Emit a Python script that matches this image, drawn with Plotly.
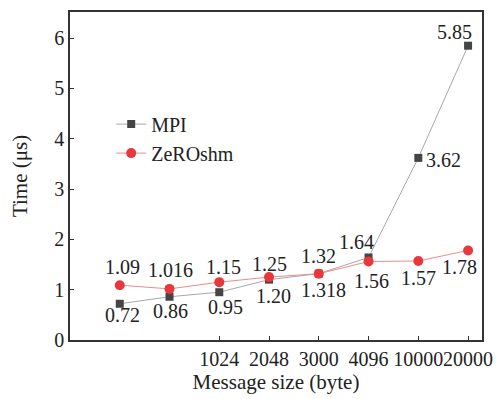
import plotly.graph_objects as go

positions = [1, 2, 3, 4, 5, 6, 7, 8]
tick_positions = [3, 4, 5, 6, 7, 8]
tick_labels = ["1024", "2048", "3000", "4096", "10000", "20000"]
mpi = [0.72, 0.86, 0.95, 1.20, 1.32, 1.64, 3.62, 5.85]
mpi_text = ["0.72", "0.86", "0.95", "1.20", "1.32", "1.64", "3.62", "5.85"]
zero = [1.09, 1.016, 1.15, 1.25, 1.318, 1.56, 1.57, 1.78]
zero_text = ["1.09", "1.016", "1.15", "1.25", "1.318", "1.56", "1.57", "1.78"]

# label offsets in pixels (dx, dy-up)
mpi_off = [(3, -11), (1, -14), (6, -15), (4, -16), (0, 18), (-12, 16), (25, -2), (-14, 14)]
zero_off = [(3, 18), (1, 19), (4, 15), (0, 13), (5, -16), (3, -19), (0, -17), (-9, -17)]

FONT = "Liberation Serif"
fig = go.Figure()
fig.add_trace(go.Scatter(
    x=positions, y=mpi, mode="lines+markers", name="MPI",
    line=dict(color="#a8a8a8", width=1),
    marker=dict(symbol="square", size=8, color="#454545"),
))
fig.add_trace(go.Scatter(
    x=positions, y=zero, mode="lines+markers", name="ZeROshm",
    line=dict(color="#eb8c8c", width=1),
    marker=dict(symbol="circle", size=10, color="#e8383d"),
))

for xs, ys, ts, offs in [(positions, mpi, mpi_text, mpi_off), (positions, zero, zero_text, zero_off)]:
    for x, y, t, (dx, dy) in zip(xs, ys, ts, offs):
        fig.add_annotation(x=x, y=y, text=t, showarrow=False,
                           xshift=dx, yshift=dy,
                           font=dict(family=FONT, size=20, color="#222222"))

fig.update_layout(
    width=503, height=399,
    margin=dict(l=70, r=16, t=10, b=55),
    plot_bgcolor="white", paper_bgcolor="white",
    font=dict(family=FONT, size=20, color="#222222"),
    showlegend=True,
    legend=dict(x=0.10, y=0.614, xanchor="left", yanchor="middle",
                bgcolor="rgba(0,0,0,0)", font=dict(family=FONT, size=20),
                tracegroupgap=0),
)
fig.update_xaxes(
    range=[0, 8.28], tickvals=tick_positions, ticktext=tick_labels, tickangle=0,
    ticks="inside", ticklen=4, tickcolor="#333", showgrid=False, zeroline=False,
    showline=True, linecolor="#333", linewidth=1.5, mirror=True,
    title=dict(text="Message size (byte)", standoff=5, font=dict(family=FONT, size=21)),
    tickfont=dict(family=FONT, size=20),
)
fig.update_yaxes(
    range=[0, 6.52], tickvals=[0, 1, 2, 3, 4, 5, 6],
    ticks="inside", ticklen=4, tickcolor="#333", showgrid=False, zeroline=False,
    showline=True, linecolor="#333", linewidth=1.5, mirror=True,
    title=dict(text="Time (μs)", standoff=21, font=dict(family=FONT, size=21)),
    tickfont=dict(family=FONT, size=20),
)
fig.write_html("out.html")
